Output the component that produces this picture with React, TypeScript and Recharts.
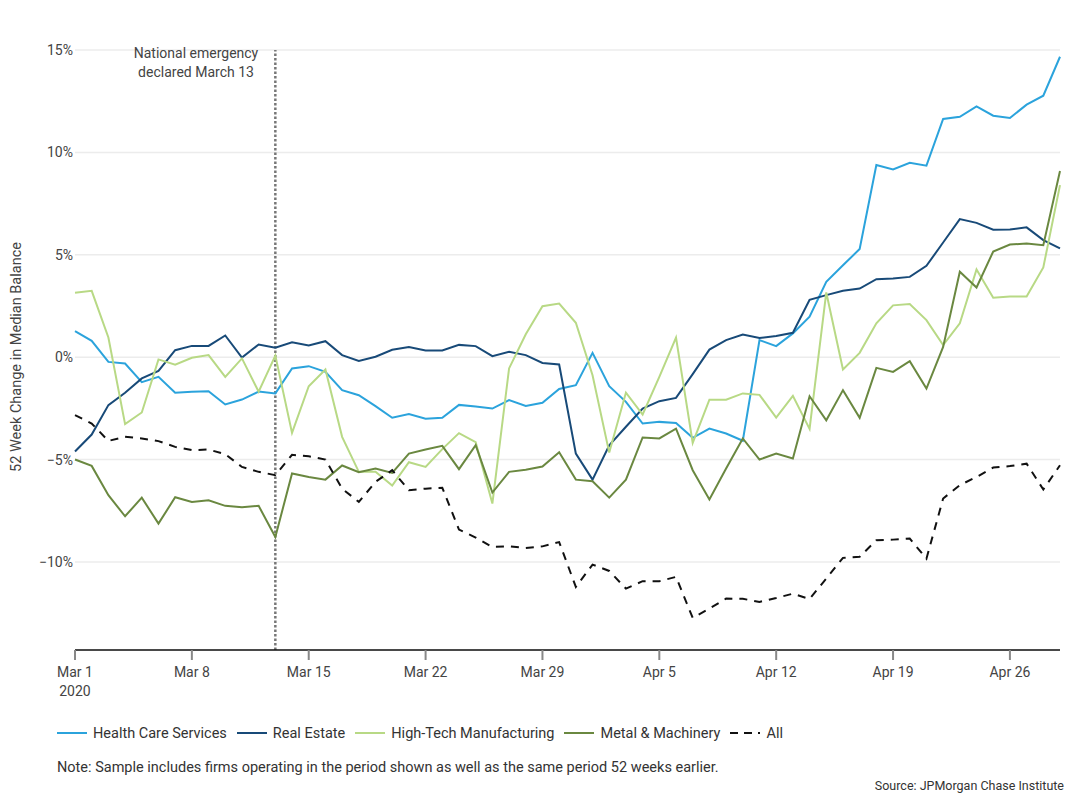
import { LineChart, Line, XAxis, YAxis, CartesianGrid, ReferenceLine } from 'recharts'

// daily values, Mar 1 .. Apr 29 2020 (index 0 = Mar 1)
const healthCare = [
  1.27, 0.8, -0.23, -0.31, -1.22, -0.96, -1.74, -1.69, -1.66, -2.31,
  -2.07, -1.68, -1.77, -0.55, -0.44, -0.72, -1.61, -1.86, -2.39, -2.96,
  -2.78, -3.01, -2.96, -2.33, -2.41, -2.51, -2.1, -2.38, -2.23, -1.55,
  -1.37, 0.21, -1.42, -2.18, -3.24, -3.16, -3.21, -3.94, -3.49, -3.73,
  -4.08, 0.83, 0.54, 1.16, 1.98, 3.68, 4.49, 5.28, 9.38, 9.17,
  9.49, 9.35, 11.63, 11.74, 12.25, 11.79, 11.68, 12.33, 12.77, 14.67,
]
const realEstate = [
  -4.61, -3.78, -2.34, -1.74, -1.04, -0.67, 0.34, 0.55, 0.55, 1.06,
  -0.02, 0.62, 0.46, 0.73, 0.57, 0.78, 0.1, -0.18, 0.02, 0.36,
  0.49, 0.33, 0.33, 0.6, 0.54, 0.05, 0.26, 0.1, -0.28, -0.36,
  -4.71, -5.98, -4.3, -3.4, -2.51, -2.15, -1.99, -0.83, 0.37, 0.83,
  1.11, 0.94, 1.03, 1.19, 2.8, 3.03, 3.24, 3.35, 3.81, 3.84,
  3.92, 4.46, 5.6, 6.74, 6.56, 6.22, 6.24, 6.34, 5.72, 5.31,
]
const highTech = [
  3.14, 3.24, 0.96, -3.27, -2.7, -0.11, -0.37, -0.03, 0.1, -0.96,
  -0.06, -1.69, 0.08, -3.7, -1.42, -0.6, -3.89, -5.6, -5.6, -6.27,
  -5.13, -5.36, -4.49, -3.71, -4.15, -7.15, -0.55, 1.12, 2.49, 2.62,
  1.68, -0.88, -4.66, -1.73, -2.8, -0.96, 0.96, -4.19, -2.08, -2.08,
  -1.77, -1.84, -2.95, -1.89, -3.5, 3.16, -0.6, 0.21, 1.65, 2.53,
  2.6, 1.81, 0.59, 1.65, 4.28, 2.9, 2.96, 2.96, 4.38, 8.4,
]
const metal = [
  -5.0, -5.31, -6.74, -7.77, -6.86, -8.13, -6.84, -7.07, -6.99, -7.26,
  -7.33, -7.26, -8.78, -5.68, -5.85, -5.98, -5.29, -5.62, -5.44, -5.65,
  -4.71, -4.51, -4.33, -5.47, -4.3, -6.61, -5.6, -5.5, -5.34, -4.64,
  -5.98, -6.06, -6.86, -5.98, -3.92, -3.97, -3.49, -5.52, -6.95, -5.44,
  -3.97, -5.0, -4.71, -4.95, -1.91, -3.08, -1.61, -2.96, -0.52, -0.72,
  -0.2, -1.53, 0.5, 4.17, 3.4, 5.16, 5.5, 5.55, 5.47, 9.09,
]
const allFirms = [
  -2.83, -3.24, -4.09, -3.89, -3.97, -4.1, -4.38, -4.54, -4.51, -4.74,
  -5.36, -5.6, -5.76, -4.77, -4.84, -5.0, -6.42, -7.07, -6.09, -5.52,
  -6.5, -6.42, -6.38, -8.42, -8.81, -9.27, -9.24, -9.32, -9.24, -9.03,
  -11.22, -10.13, -10.44, -11.3, -10.94, -10.94, -10.73, -12.73, -12.28, -11.79,
  -11.8, -11.95, -11.76, -11.55, -11.81, -10.81, -9.8, -9.75, -8.94, -8.91,
  -8.86, -9.84, -6.9, -6.25, -5.85, -5.39, -5.32, -5.2, -6.46, -5.28,
]

const tickDays = [0, 7, 14, 21, 28, 35, 42, 49, 56]
const tickLabels = ['Mar 1', 'Mar 8', 'Mar 15', 'Mar 22', 'Mar 29', 'Apr 5', 'Apr 12', 'Apr 19', 'Apr 26']
const yTicks = [-10, -5, 0, 5, 10, 15]
const emergencyDay = 12

const series = [
  { key: 'healthCare', name: 'Health Care Services', color: '#2ba3dc', dash: undefined },
  { key: 'realEstate', name: 'Real Estate', color: '#184a78', dash: undefined },
  { key: 'highTech', name: 'High-Tech Manufacturing', color: '#b8d985', dash: undefined },
  { key: 'metal', name: 'Metal & Machinery', color: '#6a8840', dash: undefined },
  { key: 'all', name: 'All', color: '#111111', dash: '8 7' },
]

const data = healthCare.map((v, i) => ({
  day: i,
  healthCare: v,
  realEstate: realEstate[i],
  highTech: highTech[i],
  metal: metal[i],
  all: allFirms[i],
}))

const FONT = 'Roboto, "Liberation Sans", sans-serif'

const fmtPct = (v: number) => (v < 0 ? `\u2212${Math.abs(v)}%` : `${v}%`)

const DateTick = ({ x, y, payload }: any) => {
  const idx = tickDays.indexOf(payload.value)
  return (
    <g>
      <text x={x} y={y} dy={15} textAnchor="middle" fill="#444" fontSize={14} fontFamily={FONT}>
        {tickLabels[idx]}
      </text>
      {idx === 0 && (
        <text x={x} y={y} dy={34} textAnchor="middle" fill="#444" fontSize={14} fontFamily={FONT}>
          2020
        </text>
      )}
    </g>
  )
}

const EmergencyLabel = () => (
  <g fontFamily={FONT} fontSize={14} fill="#444" textAnchor="middle">
    <text x={196} y={58}>National emergency</text>
    <text x={196} y={77}>declared March 13</text>
  </g>
)

const YLabel = () => (
  <text
    x={16}
    y={357}
    transform="rotate(-90, 16, 357)"
    textAnchor="middle"
    dominantBaseline="central"
    fontSize={14.5}
    fill="#444"
    fontFamily={FONT}
  >
    52 Week Change in Median Balance
  </text>
)

export default function App() {
  return (
    <div style={{ position: 'absolute', left: 0, top: 0, width: 1068, height: 795, background: '#fff', fontFamily: FONT }}>
      <LineChart width={1068} height={795} data={data} margin={{ top: 50, right: 8, bottom: 105, left: 8 }}>
        <CartesianGrid horizontal vertical={false} stroke="#ececec" strokeWidth={1.5} />
        <XAxis
          type="number"
          dataKey="day"
          domain={[0, 59]}
          ticks={tickDays}
          tick={<DateTick />}
          height={40}
          axisLine={{ stroke: '#111', strokeWidth: 1.5 }}
          tickLine={{ stroke: '#888', strokeWidth: 2 }}
          tickSize={10}
          tickMargin={2}
        />
        <YAxis
          type="number"
          domain={[-14.3, 15]}
          ticks={yTicks}
          tickFormatter={fmtPct}
          width={67}
          axisLine={false}
          tickLine={false}
          tickSize={0}
          tickMargin={2}
          tick={{ fill: '#444', fontSize: 14, fontFamily: FONT }}
          label={<YLabel />}
        />
        <ReferenceLine
          x={emergencyDay}
          stroke="#777"
          strokeWidth={2.5}
          strokeDasharray="2.5 2"
          label={<EmergencyLabel />}
        />
        {series.map(s => (
          <Line
            key={s.key}
            type="linear"
            dataKey={s.key}
            name={s.name}
            stroke={s.color}
            strokeWidth={2}
            strokeDasharray={s.dash}
            dot={false}
            isAnimationActive={false}
          />
        ))}
      </LineChart>

      <div style={{ position: 'absolute', left: 57, top: 723, display: 'flex', alignItems: 'center', fontSize: 14.5, color: '#333' }}>
        {series.map(s => (
          <div key={s.key} style={{ display: 'flex', alignItems: 'center', marginRight: 10 }}>
            <svg width={30} height={20} style={{ marginRight: 6 }}>
              <line x1={0} y1={10} x2={30} y2={10} stroke={s.color} strokeWidth={2} strokeDasharray={s.dash ? '8 6' : undefined} />
            </svg>
            <span>{s.name}</span>
          </div>
        ))}
      </div>

      <div style={{ position: 'absolute', left: 57, top: 759, fontSize: 14.5, color: '#333' }}>
        Note: Sample includes firms operating in the period shown as well as the same period 52 weeks earlier.
      </div>
      <div style={{ position: 'absolute', right: 4, top: 778, fontSize: 12.5, color: '#333' }}>
        Source: JPMorgan Chase Institute
      </div>
    </div>
  )
}
